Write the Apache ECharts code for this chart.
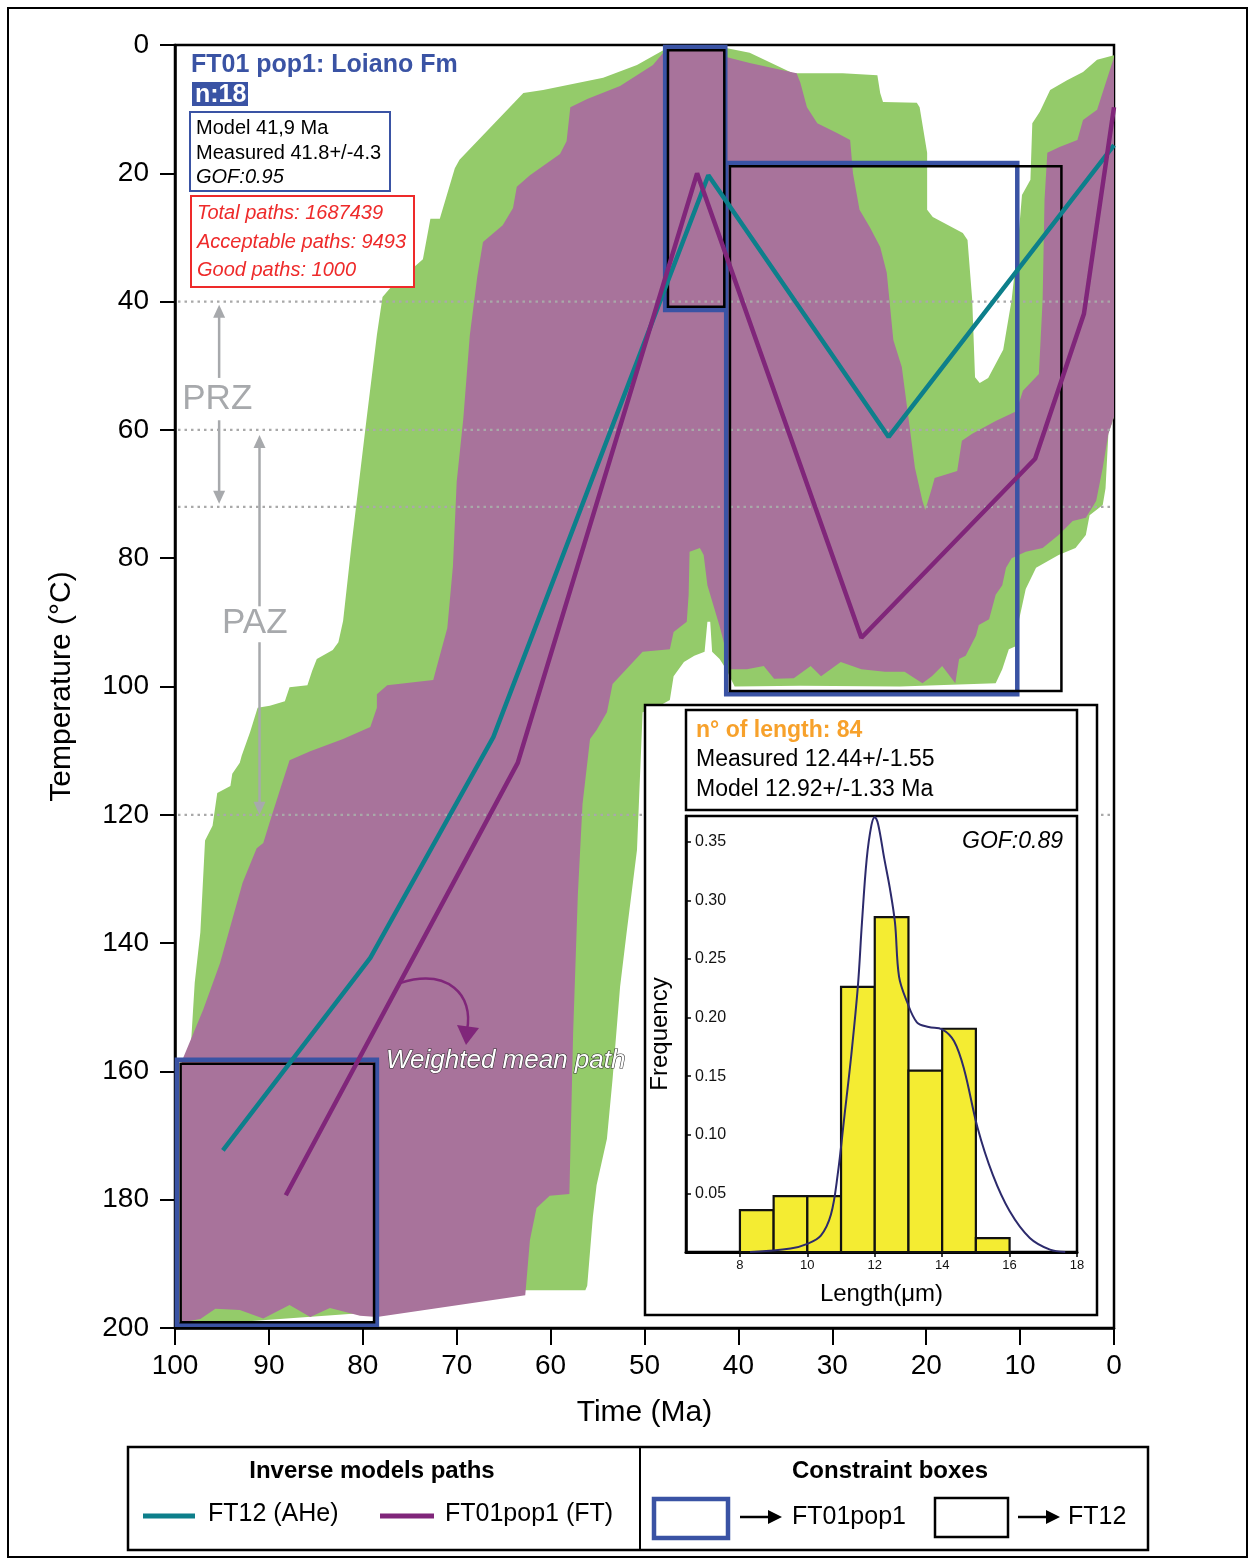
<!DOCTYPE html>
<html><head><meta charset="utf-8">
<script src="https://cdn.jsdelivr.net/npm/echarts@6/dist/echarts.min.js"></script>
<style>html,body{margin:0;padding:0;background:#fff}#c{width:1255px;height:1564px}</style>
</head><body><div id="c"></div>
<script>
const FONT = "'Liberation Sans', Arial, Helvetica, sans-serif";
const GREEN = '#94cb6a', PURPLE_FILL = '#a8739b', TEAL = '#0d7f8b', PURPLE = '#80267a', BLUE = '#3a53a4', GRAY = '#a7a9ac';

// Envelope of acceptable paths [time Ma, temperature °C]
const greenEnvelope = [[99.4,199.5],[98.9,166.2],[98.4,158.2],[97.9,146.2],[97.3,138.3],[96.8,124.0],[96.0,121.7],[95.5,116.6],[94.1,115.5],[93.9,113.6],[93.1,111.9],[92.9,110.8],[92.0,107.1],[91.2,103.3],[89.9,103.0],[88.3,102.3],[87.8,100.1],[85.9,99.8],[85.4,97.6],[84.9,95.7],[83.2,94.3],[82.6,93.1],[82.1,89.8],[81.2,77.9],[79.6,58.3],[78.5,45.2],[77.9,39.3],[77.1,37.9],[73.6,33.4],[72.8,27.1],[71.8,27.1],[70.2,19.2],[69.7,17.9],[62.9,7.5],[60.8,7.0],[54.4,5.1],[50.8,3.1],[48.0,0.8],[41.2,0.5],[38.8,1.2],[34.2,4.4],[28.9,4.4],[25.2,4.7],[24.9,7.5],[24.6,8.9],[21.0,9.0],[20.7,9.7],[19.9,16.8],[19.9,25.7],[19.3,26.8],[16.1,29.3],[15.6,30.4],[15.1,39.7],[14.8,51.8],[14.3,52.7],[13.4,51.9],[11.8,47.5],[10.9,39.7],[10.2,30.4],[9.8,23.4],[8.9,21.0],[8.7,12.2],[7.9,10.4],[6.8,7.0],[5.0,5.5],[3.3,4.2],[1.8,2.3],[0,1.6],[0,58.0],[0.6,60.6],[0.9,69.1],[1.2,71.7],[2.6,73.3],[3.0,76.4],[4.1,78.4],[5.9,79.5],[8.3,81.5],[9.4,84.8],[10.1,89.5],[10.4,93.7],[11.2,94.2],[11.9,97.3],[12.6,99.5],[22.8,100.0],[33.4,99.9],[40.4,100.0],[41.3,97.3],[42.0,95.7],[42.8,94.6],[43.0,89.9],[43.3,89.9],[43.6,94.6],[44.7,95.2],[45.8,96.2],[46.9,98.4],[47.3,102.1],[48.4,103.0],[50.2,104.0],[50.8,125.5],[51.9,138.3],[52.6,146.8],[53.4,161.2],[54.0,170.5],[55.1,177.7],[55.5,182.7],[56.1,193.4],[56.3,194.1],[62.7,194.1],[78.5,197.5],[99.2,199.7]];

// Envelope of good paths
const purpleEnvelope = [[99.3,199.1],[99.3,158.5],[97.0,150.4],[95.2,143.1],[92.8,130.6],[92.0,127.7],[91.3,125.2],[90.6,124.4],[89.9,121.1],[88.8,116.0],[87.8,111.5],[85.6,110.1],[82.1,108.2],[79.2,106.3],[78.5,103.3],[78.5,101.2],[77.4,99.8],[72.5,99.0],[72.1,96.8],[71.0,90.9],[70.4,81.2],[70.0,68.1],[69.3,58.3],[68.6,45.2],[67.8,36.0],[67.2,30.7],[65.1,28.1],[64.0,25.4],[63.6,22.1],[62.2,20.3],[59.0,17.0],[58.3,15.0],[57.9,9.7],[56.1,8.4],[52.6,6.4],[49.1,3.1],[47.6,0.5],[41.2,0.5],[41.2,1.9],[38.8,2.8],[33.8,4.4],[33.4,5.9],[32.7,9.7],[31.6,12.2],[29.5,13.7],[28.1,14.8],[27.8,20.0],[27.1,25.7],[26.0,28.4],[24.9,31.5],[24.2,35.5],[23.5,46.0],[22.6,50.2],[21.9,58.0],[21.2,65.9],[20.4,71.1],[20.1,72.5],[19.4,69.1],[19.1,67.5],[16.7,66.4],[16.2,61.7],[15.1,60.6],[12.6,58.6],[10.4,57.1],[9.7,53.9],[8.0,51.3],[7.6,39.7],[7.4,24.2],[7.1,16.8],[5.8,15.9],[3.9,14.8],[3.3,11.7],[1.8,10.1],[0,1.9],[0,58.0],[0.6,60.6],[1.2,65.9],[1.9,71.1],[3.0,73.7],[4.4,74.2],[5.9,76.4],[7.6,78.4],[9.4,79.0],[10.9,80.0],[11.5,81.5],[11.9,84.2],[12.6,85.7],[13.3,89.5],[14.4,90.4],[14.7,92.1],[15.8,95.2],[16.5,95.7],[16.9,99.5],[18.3,96.8],[19.4,98.4],[20.4,99.5],[22.3,97.7],[24.4,97.7],[26.9,97.3],[29.1,96.2],[31.2,98.4],[32.3,96.8],[34.1,98.7],[36.2,98.8],[37.3,96.8],[39.1,97.3],[40.8,97.3],[42.0,90.6],[43.3,84.2],[43.7,79.5],[44.1,78.4],[45.2,79.0],[45.3,85.7],[45.5,89.9],[46.9,91.5],[47.3,94.2],[50.2,94.6],[53.4,99.6],[54.0,104.0],[55.1,106.8],[55.8,108.2],[56.6,118.3],[57.1,132.5],[57.6,154.0],[58.0,179.1],[60.1,179.4],[61.5,181.3],[62.2,186.3],[62.7,194.9],[78.5,198.3],[80.3,198.1],[83.5,196.9],[85.6,198.3],[87.8,196.4],[90.6,198.5],[93.1,197.2],[95.7,197.0],[97.3,198.6],[99.2,199.1]];

// Weighted mean paths
const ft12Path = [[94.9,172.3],[79.2,142.3],[66.1,107.9],[43.2,20.3],[24.0,61.1],[0,15.6]];
const ft01Path = [[88.2,179.3],[63.5,111.9],[44.4,20.0],[26.9,92.4],[8.4,64.5],[3.2,41.9],[0,9.7]];

// Constraint boxes [tOld, tYoung, Tlow, Thigh]
const ft01Boxes = [[99.8,78.5,158.2,199.5],[47.8,41.4,0.3,41.3],[41.3,10.3,18.4,101.2]];
const ft12Boxes = [[99.4,78.8,158.8,199.1],[47.5,41.5,0.8,40.8],[40.9,5.6,18.9,100.7]];

// Partial retention / annealing zone limits
const zoneLines = [40, 60, 72, 120];
const zoneArrows = [[95.3,51.9,40.5],[95.3,58.5,71.5],[91.0,87.5,60.8],[91.0,93.1,120.0]];
const zoneLabels = [[95.5,55.3],[91.5,90.1]];
const zoneNames = ['PRZ','PAZ'];

// Track length histogram
const binStart = [8,9,10,11,12,13,14,15];
const binEnd = [9,10,11,12,13,14,15,16];
const binFreq = [0.0357,0.0476,0.0476,0.2262,0.2857,0.1548,0.1905,0.0119];
const modelLength = [[8.3,0],[9.5,0.003],[10.0,0.007],[10.4,0.014],[10.7,0.032],[10.9,0.066],[11.1,0.116],[11.3,0.167],[11.5,0.227],[11.62,0.281],[11.76,0.335],[11.9,0.364],[12.0,0.371],[12.1,0.365],[12.28,0.336],[12.45,0.31],[12.6,0.281],[12.72,0.235],[12.95,0.214],[13.25,0.196],[13.6,0.192],[14.0,0.19],[14.35,0.18],[14.65,0.156],[15.05,0.106],[15.5,0.066],[16.0,0.035],[16.6,0.012],[17.2,0.002],[17.65,0]];
const lengthTicks = [8,10,12,14,16,18];
const freqTicks = [0.05,0.10,0.15,0.20,0.25,0.30,0.35];

function polygonSeries(name, pts, color, z) {
  return {
    name, type: 'custom', xAxisIndex: 0, yAxisIndex: 0, z, silent: true, clip: true,
    data: [[pts[0][0], pts[0][1]]],
    renderItem: (params, api) => ({
      type: 'polygon',
      shape: { points: pts.map(p => api.coord(p)) },
      style: { fill: color }
    })
  };
}
function boxSeries(name, boxes, color, width, z) {
  return {
    name, type: 'custom', xAxisIndex: 0, yAxisIndex: 0, z, silent: true,
    data: boxes,
    renderItem: (params, api) => {
      const a = api.coord([api.value(0), api.value(2)]);
      const b = api.coord([api.value(1), api.value(3)]);
      return { type: 'rect', shape: { x: Math.min(a[0], b[0]), y: Math.min(a[1], b[1]), width: Math.abs(b[0]-a[0]), height: Math.abs(b[1]-a[1]) },
        style: { fill: 'none', stroke: color, lineWidth: width } };
    }
  };
}

const chart = echarts.init(document.getElementById('c'));
const option = {
  backgroundColor: '#fff',
  animation: false,
  grid: [
    { left: 175, top: 45, width: 939, height: 1283, show: true, borderColor: '#000', borderWidth: 2.5, backgroundColor: 'transparent' },
    { left: 686, top: 816, width: 391, height: 436, show: true, borderColor: '#000', borderWidth: 2.5, backgroundColor: 'transparent', zlevel: 1, z: 2 }
  ],
  xAxis: [
    { gridIndex: 0, type: 'value', min: 0, max: 100, interval: 10, inverse: true, position: 'bottom',
      name: 'Time (Ma)', nameLocation: 'middle', nameGap: 70,
      nameTextStyle: { fontFamily: FONT, fontSize: 30, color: '#000' },
      axisLine: { onZero: false, lineStyle: { color: '#000', width: 2.5 } },
      axisTick: { length: 17, lineStyle: { color: '#000', width: 2 } },
      axisLabel: { fontFamily: FONT, fontSize: 28, color: '#000', margin: 24 },
      splitLine: { show: false }, minorTick: { show: false }, minorSplitLine: { show: false } },
    { gridIndex: 1, type: 'value', min: 6.4, max: 18, zlevel: 1, z: 3, position: 'bottom',
      name: 'Length(μm)', nameLocation: 'middle', nameGap: 30,
      nameTextStyle: { fontFamily: FONT, fontSize: 24, color: '#000' },
      axisLine: { onZero: false, lineStyle: { color: '#000', width: 3 } },
      axisTick: { length: 5, customValues: lengthTicks, lineStyle: { color: '#000', width: 1.5 } },
      axisLabel: { fontFamily: FONT, fontSize: 13, color: '#111', margin: 7, customValues: lengthTicks },
      splitLine: { show: false } }
  ],
  yAxis: [
    { gridIndex: 0, type: 'value', min: 0, max: 200, interval: 20, inverse: true, position: 'left',
      name: 'Temperature (°C)', nameLocation: 'middle', nameGap: 98, nameRotate: 90,
      nameTextStyle: { fontFamily: FONT, fontSize: 30, color: '#000' },
      axisLine: { show: true, onZero: false, lineStyle: { color: '#000', width: 2.5 } },
      axisTick: { show: true, length: 15, lineStyle: { color: '#000', width: 2 } },
      axisLabel: { fontFamily: FONT, fontSize: 28, color: '#000', margin: 26 },
      splitLine: { show: false }, minorTick: { show: false }, minorSplitLine: { show: false } },
    { gridIndex: 1, type: 'value', min: 0, max: 0.372, zlevel: 1, z: 3, position: 'left',
      name: 'Frequency', nameLocation: 'middle', nameGap: 14, nameRotate: 90,
      nameTextStyle: { fontFamily: FONT, fontSize: 24, color: '#000' },
      axisLine: { show: true, onZero: false, lineStyle: { color: '#000', width: 2.5 } },
      axisTick: { show: true, inside: true, length: 5, customValues: freqTicks, lineStyle: { color: '#000', width: 1.5 } },
      axisLabel: { inside: true, fontFamily: FONT, fontSize: 16, color: '#111', margin: 9, customValues: freqTicks,
        formatter: v => v.toFixed(2) },
      splitLine: { show: false } }
  ],
  series: [
    polygonSeries('Acceptable paths', greenEnvelope, GREEN, 1),
    polygonSeries('Good paths', purpleEnvelope, PURPLE_FILL, 2),
    { name: 'zones', type: 'custom', xAxisIndex: 0, yAxisIndex: 0, z: 3, silent: true,
      data: zoneLines.map(v => [50, v]),
      renderItem: (params, api) => {
        const a = api.coord([100, api.value(1)]), b = api.coord([0, api.value(1)]);
        return { type: 'line', shape: { x1: a[0] + 3, y1: a[1], x2: b[0], y2: b[1] },
          style: { stroke: '#a9a9a9', lineWidth: 2.2, lineDash: [2.5, 4] } };
      } },
    { name: 'zoneArrows', type: 'custom', xAxisIndex: 0, yAxisIndex: 0, z: 3, silent: true,
      data: zoneArrows,
      renderItem: (params, api) => {
        const a = api.coord([api.value(0), api.value(1)]), b = api.coord([api.value(0), api.value(2)]);
        const dir = b[1] > a[1] ? 1 : -1;
        return { type: 'group', children: [
          { type: 'line', shape: { x1: a[0], y1: a[1], x2: b[0], y2: b[1] - dir * 8 }, style: { stroke: GRAY, lineWidth: 2.5 } },
          { type: 'polygon', shape: { points: [[b[0], b[1]], [b[0] - 6, b[1] - dir * 13], [b[0] + 6, b[1] - dir * 13]] }, style: { fill: GRAY } }
        ] };
      } },
    { name: 'zoneLabels', type: 'custom', xAxisIndex: 0, yAxisIndex: 0, z: 3, silent: true,
      data: zoneLabels,
      renderItem: (params, api) => {
        const p = api.coord([api.value(0), api.value(1)]);
        return { type: 'text', x: p[0], y: p[1], style: { text: zoneNames[params.dataIndex], fill: GRAY,
          font: '35px ' + FONT, align: 'center', verticalAlign: 'middle' } };
      } },
    boxSeries('FT01pop1 boxes', ft01Boxes, BLUE, 4.5, 4),
    boxSeries('FT12 boxes', ft12Boxes, '#000', 2.5, 5),
    { name: 'FT12 (AHe)', type: 'line', xAxisIndex: 0, yAxisIndex: 0, z: 6, data: ft12Path,
      symbol: 'none', lineStyle: { color: TEAL, width: 4.5 }, silent: true },
    { name: 'FT01pop1 (FT)', type: 'line', xAxisIndex: 0, yAxisIndex: 0, z: 6, data: ft01Path,
      symbol: 'none', lineStyle: { color: PURPLE, width: 4.5 }, silent: true },
    { name: 'Measured lengths', type: 'custom', xAxisIndex: 1, yAxisIndex: 1, zlevel: 1, z: 4, silent: true,
      data: binStart.map((s, i) => [s, binFreq[i], binEnd[i]]),
      renderItem: (params, api) => {
        const a = api.coord([api.value(0), api.value(1)]), b = api.coord([api.value(2), 0]);
        return { type: 'rect', shape: { x: a[0], y: a[1], width: b[0] - a[0], height: b[1] - a[1] },
          style: { fill: '#f4ec32', stroke: '#111', lineWidth: 2.2 } };
      } },
    { name: 'Model lengths', type: 'line', xAxisIndex: 1, yAxisIndex: 1, zlevel: 1, z: 5, data: modelLength,
      smooth: 0.35, symbol: 'none', lineStyle: { color: '#2c2a6c', width: 2 }, silent: true }
  ],
  graphic: [
    { type: 'rect', shape: { x: 8, y: 8, width: 1239, height: 1549 }, style: { fill: 'none', stroke: '#000', lineWidth: 2 }, z: 0 },
    { type: 'text', x: 191, y: 65, z: 10, style: { text: 'FT01 pop1: Loiano Fm', font: 'bold 25px ' + FONT, fill: BLUE, verticalAlign: 'middle' } },
    { type: 'rect', shape: { x: 192, y: 82, width: 56, height: 24 }, style: { fill: BLUE }, z: 10 },
    { type: 'text', x: 195, y: 95, z: 11, style: { text: 'n:18', font: 'bold 25px ' + FONT, fill: '#fff', verticalAlign: 'middle' } },
    { type: 'rect', shape: { x: 190, y: 112, width: 200, height: 79 }, style: { fill: '#fff', stroke: BLUE, lineWidth: 2 }, z: 10 },
    { type: 'text', x: 196, y: 128, z: 11, style: { text: 'Model 41,9 Ma', font: '20px ' + FONT, fill: '#000', verticalAlign: 'middle' } },
    { type: 'text', x: 196, y: 153, z: 11, style: { text: 'Measured 41.8+/-4.3', font: '20px ' + FONT, fill: '#000', verticalAlign: 'middle' } },
    { type: 'text', x: 196, y: 177, z: 11, style: { text: 'GOF:0.95', font: 'italic 20px ' + FONT, fill: '#000', verticalAlign: 'middle' } },
    { type: 'rect', shape: { x: 191, y: 196, width: 223, height: 91 }, style: { fill: '#fff', stroke: '#ee2a2a', lineWidth: 2 }, z: 10 },
    { type: 'text', x: 197, y: 213, z: 11, style: { text: 'Total paths: 1687439', font: 'italic 20px ' + FONT, fill: '#ee2a2a', verticalAlign: 'middle' } },
    { type: 'text', x: 197, y: 242, z: 11, style: { text: 'Acceptable paths: 9493', font: 'italic 20px ' + FONT, fill: '#ee2a2a', verticalAlign: 'middle' } },
    { type: 'text', x: 197, y: 270, z: 11, style: { text: 'Good paths: 1000', font: 'italic 20px ' + FONT, fill: '#ee2a2a', verticalAlign: 'middle' } },
    { type: 'bezierCurve', shape: { x1: 400, y1: 983, cpx1: 448, cpy1: 968, cpx2: 474, cpy2: 995, x2: 467, y2: 1030 }, style: { stroke: PURPLE, lineWidth: 2.5, fill: 'none' }, z: 10 },
    { type: 'polygon', shape: { points: [[457, 1025], [479, 1028], [466, 1045]] }, style: { fill: PURPLE }, z: 10 },
    { type: 'text', x: 386, y: 1061, z: 10, style: { text: 'Weighted mean path', font: 'italic 26px ' + FONT, fill: '#fff', stroke: '#333', lineWidth: 1.2, verticalAlign: 'middle' } },
    { type: 'rect', shape: { x: 645, y: 705, width: 452, height: 610 }, style: { fill: '#fff', stroke: '#000', lineWidth: 2.5 }, zlevel: 1, z: 1 },
    { type: 'rect', shape: { x: 686, y: 710, width: 391, height: 100 }, style: { fill: 'none', stroke: '#000', lineWidth: 2.5 }, zlevel: 1, z: 6 },
    { type: 'text', x: 696, y: 731, zlevel: 1, z: 6, style: { text: 'n° of length: 84', font: 'bold 23px ' + FONT, fill: '#f7a12b', verticalAlign: 'middle' } },
    { type: 'text', x: 696, y: 760, zlevel: 1, z: 6, style: { text: 'Measured 12.44+/-1.55', font: '23px ' + FONT, fill: '#000', verticalAlign: 'middle' } },
    { type: 'text', x: 696, y: 790, zlevel: 1, z: 6, style: { text: 'Model 12.92+/-1.33 Ma', font: '23px ' + FONT, fill: '#000', verticalAlign: 'middle' } },
    { type: 'text', x: 1063, y: 842, zlevel: 1, z: 6, style: { text: 'GOF:0.89', font: 'italic 23px ' + FONT, fill: '#000', align: 'right', verticalAlign: 'middle' } },
    { type: 'rect', shape: { x: 128, y: 1447, width: 1020, height: 103 }, style: { fill: '#fff', stroke: '#000', lineWidth: 2.5 }, z: 10 },
    { type: 'line', shape: { x1: 640, y1: 1447, x2: 640, y2: 1550 }, style: { stroke: '#000', lineWidth: 2 }, z: 11 },
    { type: 'text', x: 372, y: 1471, z: 11, style: { text: 'Inverse models paths', font: 'bold 24px ' + FONT, fill: '#000', align: 'center', verticalAlign: 'middle' } },
    { type: 'text', x: 890, y: 1471, z: 11, style: { text: 'Constraint boxes', font: 'bold 24px ' + FONT, fill: '#000', align: 'center', verticalAlign: 'middle' } },
    { type: 'line', shape: { x1: 143, y1: 1516, x2: 195, y2: 1516 }, style: { stroke: TEAL, lineWidth: 5 }, z: 11 },
    { type: 'text', x: 208, y: 1514, z: 11, style: { text: 'FT12 (AHe)', font: '25px ' + FONT, fill: '#000', verticalAlign: 'middle' } },
    { type: 'line', shape: { x1: 380, y1: 1516, x2: 434, y2: 1516 }, style: { stroke: PURPLE, lineWidth: 5 }, z: 11 },
    { type: 'text', x: 445, y: 1514, z: 11, style: { text: 'FT01pop1 (FT)', font: '25px ' + FONT, fill: '#000', verticalAlign: 'middle' } },
    { type: 'rect', shape: { x: 654, y: 1499, width: 74, height: 39 }, style: { fill: 'none', stroke: BLUE, lineWidth: 4.5 }, z: 11 },
    { type: 'line', shape: { x1: 740, y1: 1517, x2: 770, y2: 1517 }, style: { stroke: '#000', lineWidth: 2.5 }, z: 11 },
    { type: 'polygon', shape: { points: [[768, 1510], [782, 1517], [768, 1524]] }, style: { fill: '#000' }, z: 11 },
    { type: 'text', x: 792, y: 1517, z: 11, style: { text: 'FT01pop1', font: '25px ' + FONT, fill: '#000', verticalAlign: 'middle' } },
    { type: 'rect', shape: { x: 935, y: 1498, width: 73, height: 39 }, style: { fill: 'none', stroke: '#000', lineWidth: 2.5 }, z: 11 },
    { type: 'line', shape: { x1: 1018, y1: 1517, x2: 1048, y2: 1517 }, style: { stroke: '#000', lineWidth: 2.5 }, z: 11 },
    { type: 'polygon', shape: { points: [[1046, 1510], [1060, 1517], [1046, 1524]] }, style: { fill: '#000' }, z: 11 },
    { type: 'text', x: 1068, y: 1517, z: 11, style: { text: 'FT12', font: '25px ' + FONT, fill: '#000', verticalAlign: 'middle' } }
  ]
};
chart.setOption(option);
</script>
</body></html>
